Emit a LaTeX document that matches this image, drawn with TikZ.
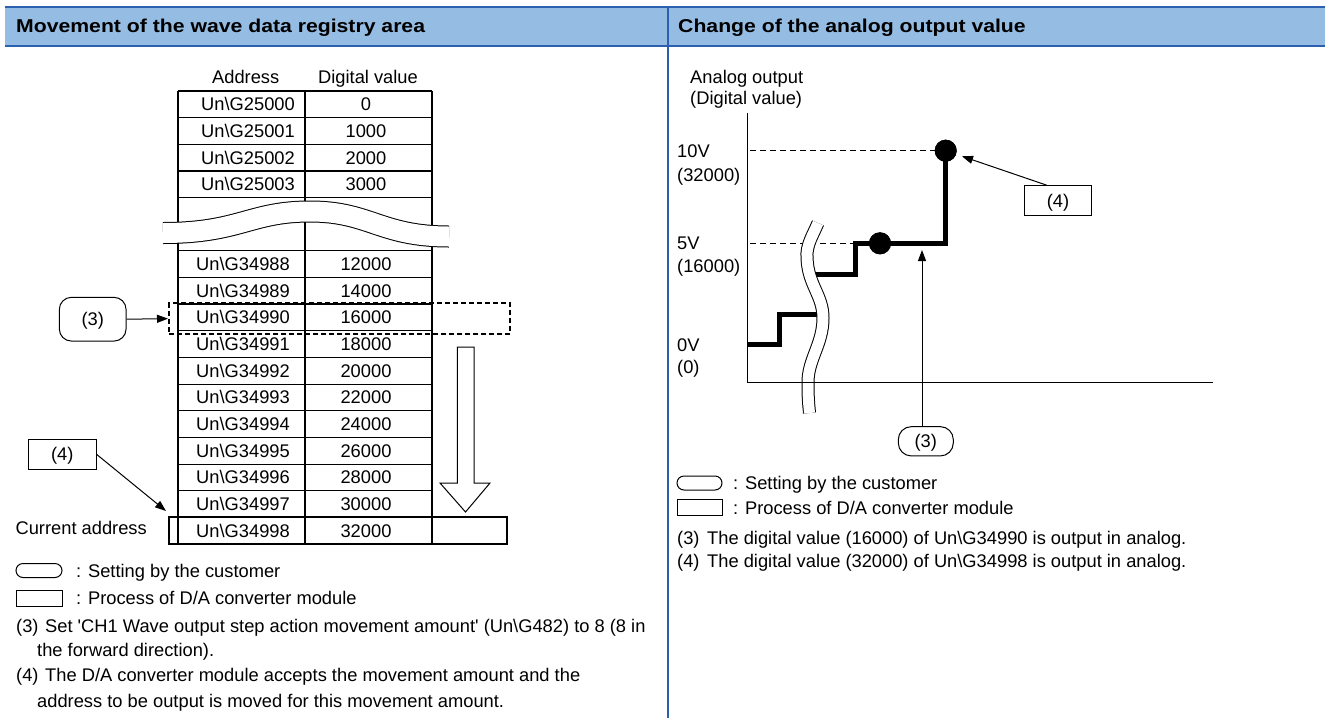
\documentclass[tikz,border=0pt]{standalone}
\usepackage{fontspec}
\setmainfont{Liberation Sans}
\newfontfamily\hdrfont{Liberation Sans}[FakeStretch=1.14]
\usetikzlibrary{arrows.meta}
\definecolor{hdrfill}{RGB}{149,189,227}
\definecolor{hdrline}{RGB}{45,95,175}
\tikzset{
  txt/.style={font=\fontsize{18.3}{22}\selectfont, inner sep=0pt, text height=13pt, text depth=0pt},
  hdrtxt/.style={txt, font=\hdrfont\fontsize{18.6}{22}\selectfont\bfseries, anchor=west},
  tline/.style={line width=1.1pt, black},
  callout/.style={draw, line width=1pt, txt, rounded corners=12pt},
  boxnote/.style={draw, line width=1pt, txt},
  tip/.style={-{Triangle[length=11pt,width=8pt]}, line width=1pt},
  stepline/.style={line width=5pt},
  dashref/.style={dash pattern=on 6pt off 4pt, line width=1pt},
  brk/.style={double=white, double distance=11pt, line width=1pt},
  seldash/.style={draw, line width=2pt, dash pattern=on 5pt off 3pt, inner sep=0pt},
  curbox/.style={draw, line width=2pt, inner sep=0pt},
  dot/.style={circle, fill=black, inner sep=0pt, minimum size=22pt},
  lgstad/.style={draw, line width=1pt, rounded corners=7pt, inner sep=0pt, minimum width=46pt, minimum height=14pt},
  lgrect/.style={draw, line width=1pt, inner sep=0pt, minimum width=46pt, minimum height=16pt},
}
\begin{document}
\begin{tikzpicture}[x=1pt,y=-1pt]
\useasboundingbox (0,0) rectangle (1330,718);
\fill[white] (0,0) rectangle (1330,718);
% ---------------- header
\fill[hdrfill] (5,7) rectangle (1325,46);
\draw[hdrline, line width=2pt] (5,7) -- (1325,7);
\draw[hdrline, line width=2pt] (5,46) -- (1325,46);
\draw[hdrline, line width=1.5pt] (668,7) -- (668,718);
\node[hdrtxt] (h1) at (16,26) {Movement of the wave data registry area};
\node[hdrtxt] (h2) at (678,26) {Change of the analog output value};

% ---------------- left: table
\node[txt] (colA) at (245.7,76.7) {Address};
\node[txt] (colV) at (368,76.7) {Digital value};
\foreach \yy in {91,117.67,144.33,171,197.67}
  \draw[tline] (178,\yy) -- (432,\yy);
\foreach \i in {0,...,11}
  \draw[tline] (178,{250.7+26.67*\i}) -- (432,{250.7+26.67*\i});
\foreach \xx in {178,305,432}
  \draw[tline] (\xx,91) -- (\xx,544);
\foreach \a/\v [count=\k from 0] in {25000/0,25001/1000,25002/2000,25003/3000}{
  \node[txt] (ua\k) at (248,{104.33+26.67*\k}) {Un\textbackslash G\a};
  \node[txt] (uv\k) at (366,{104.33+26.67*\k}) {\v};
}
\foreach \a/\v [count=\k from 0] in {34988/12000,34989/14000,34990/16000,34991/18000,34992/20000,34993/22000,34994/24000,34995/26000,34996/28000,34997/30000,34998/32000}{
  \node[txt] (la\k) at (243,{264.03+26.67*\k}) {Un\textbackslash G\a};
  \node[txt] (lv\k) at (366,{264.03+26.67*\k}) {\v};
}
% break wave in table
\draw[brk, double distance=20pt] (163,233) .. controls (240,233) and (250,211.5) .. (310,211.5) .. controls (370,211.5) and (380,236.5) .. (449,236.5);

% dashed selection box and current address box
\node[seldash, minimum width=341pt, minimum height=30.7pt] (sel) at (339.5,318.65) {};
\node[curbox, minimum width=338pt, minimum height=27pt] (cur) at (338,530.5) {};
\node[txt, anchor=east] (curlbl) at (147,528) {Current address};

% hollow movement arrow
\draw[line width=1pt, fill=white] (457.3,347) -- (474,347) -- (474,483) -- (490,483) -- (465.5,512) -- (440,483) -- (457.3,483) -- cycle;

% callouts left
\node[callout, minimum width=66.7pt, minimum height=43.7pt] (n3l) at (92.7,319.2) {(3)};
\draw[tip] (n3l.east) -- (sel.west);
\node[boxnote, minimum width=67.7pt, minimum height=30pt] (n4l) at (62.2,454.3) {(4)};
\draw[tip] (n4l.east) -- ([shift={(-2,-5)}]cur.north west);

% legend left
\node[lgstad] (lgs1) at (39,570.5) {};
\node[txt, anchor=west] (lgt1) at (76,570.7) {: Setting by the customer};
\node[lgrect] (lgr1) at (39,598) {};
\node[txt, anchor=west] (lgt2) at (76,598.3) {: Process of D/A converter module};
\node[txt, anchor=west] (p3n) at (16,626) {(3)};
\node[txt, anchor=west] (p3a) at (45,626) {Set \textquotesingle CH1 Wave output step action movement amount\textquotesingle{} (Un\textbackslash G482) to 8 (8 in};
\node[txt, anchor=west] (p3b) at (37,650) {the forward direction).};
\node[txt, anchor=west] (p4n) at (16,675) {(4)};
\node[txt, anchor=west] (p4a) at (45,675) {The D/A converter module accepts the movement amount and the};
\node[txt, anchor=west] (p4b) at (37,701) {address to be output is moved for this movement amount.};

% ---------------- right: chart
\node[txt, anchor=west] (ya1) at (690,76.7) {Analog output};
\node[txt, anchor=west] (ya2) at (690,98.3) {(Digital value)};
\node[txt, anchor=west] (l10a) at (677,150.7) {10V};
\node[txt, anchor=west] (l10b) at (677,175) {(32000)};
\node[txt, anchor=west] (l5a) at (677,242.7) {5V};
\node[txt, anchor=west] (l5b) at (677,265.5) {(16000)};
\node[txt, anchor=west] (l0a) at (677,344.5) {0V};
\node[txt, anchor=west] (l0b) at (677,367) {(0)};

\node[dot] (d10) at (945.7,150.7) {};
\node[dot] (d5) at (880,243.3) {};
\coordinate (o) at (747.7,382.7);
\coordinate (ytop) at (747.7,113.3);
\coordinate (xend) at (1213.3,382.7);

\draw[dashref] (750,150.7) -- (d10.west);
\draw[dashref] (750,243.3) -- (855,243.3);
\draw[stepline] (747.7,344) -- (779,344) -- (779,314) -- (822,314);
\draw[stepline] (805,274.5) -- (855.7,274.5) -- (855.7,243.3) -- (945.7,243.3) -- (d10.center);
\node[dot] at (d5) {};
\node[dot] at (d10) {};
% break
\draw[brk] (818,223) .. controls (813,235) and (806,245) .. (807,258) .. controls (808,285) and (823,295) .. (823,318) .. controls (823,345) and (807,360) .. (808,385) .. controls (808,400) and (809,407) .. (809.5,413);
% axes
\draw[line width=1.2pt] (ytop) -- (o) -- (xend);

% callouts right
\node[callout, rounded corners=13pt, minimum width=55pt, minimum height=29.3pt] (n3r) at (925.8,441.3) {(3)};
\coordinate (t3) at (922,250);
\draw[tip] (n3r.north -| t3) -- (t3);
\node[boxnote, minimum width=67.4pt, minimum height=30pt] (n4r) at (1058,200.7) {(4)};
\draw[tip, shorten >=6pt] ([xshift=-11.3pt]n4r.north) -- (d10);

% legend right
\node[lgstad, minimum width=45pt] (lgs2) at (699.5,483) {};
\node[txt, anchor=west] (rgt1) at (733,483.3) {: Setting by the customer};
\node[lgrect, minimum width=45pt] (lgr2) at (699.5,507.5) {};
\node[txt, anchor=west] (rgt2) at (733,508.3) {: Process of D/A converter module};
\node[txt, anchor=west] (r3n) at (677,538) {(3)};
\node[txt, anchor=west] (r3a) at (707,538) {The digital value (16000) of Un\textbackslash G34990 is output in analog.};
\node[txt, anchor=west] (r4n) at (677,561) {(4)};
\node[txt, anchor=west] (r4a) at (707,561) {The digital value (32000) of Un\textbackslash G34998 is output in analog.};
\end{tikzpicture}
\end{document}
